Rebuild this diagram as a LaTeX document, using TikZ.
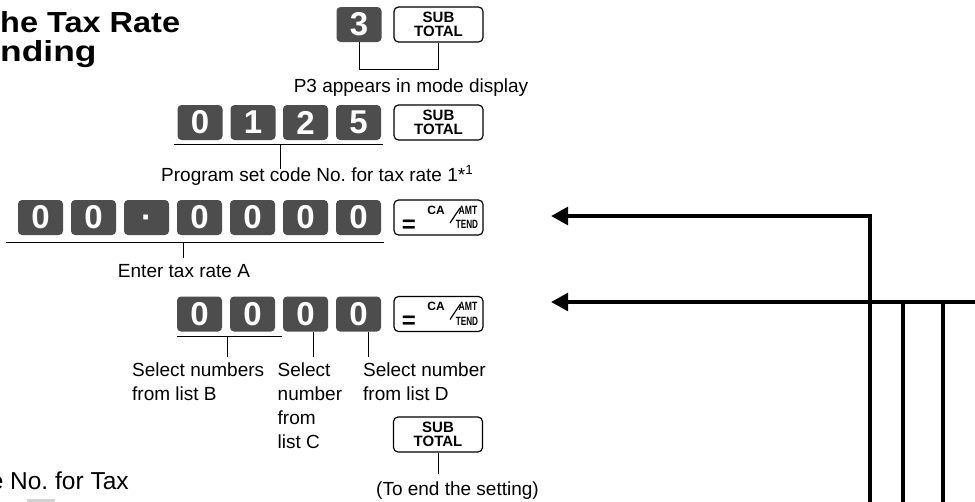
\documentclass[tikz,border=0pt]{standalone}
\usepackage{fontspec}
\setmainfont{Liberation Sans}
\usetikzlibrary{arrows.meta}
\definecolor{keygray}{HTML}{4D4D4D}
\begin{document}
\begin{tikzpicture}[x=1pt,y=-1pt,
  dkey/.style={fill=keygray, rounded corners=4pt, text=white, inner sep=0pt,
    minimum width=45pt, minimum height=35pt,
    font=\bfseries\fontsize{33}{33}\selectfont},
  okey/.style={draw=black, line width=1.2pt, rounded corners=4.5pt, fill=white,
    inner sep=0pt, minimum width=89pt, minimum height=35pt,
    align=center, font=\bfseries\fontsize{15}{13.4}\selectfont},
  thin/.style={line width=0.9pt},
  thick/.style={line width=4pt, line join=miter},
  lab/.style={inner sep=0pt, font=\fontsize{19}{23.7}\selectfont},
  keytxt/.style={inner sep=0pt, font=\bfseries\fontsize{12}{12}\selectfont},
  tip/.style={-{Triangle[length=17pt,width=17.5pt]}},
  cakey/.pic={
    \node[okey] (-box) at (0,0) {};
    \node[inner sep=0pt, font=\bfseries\fontsize{24}{24}\selectfont] (-eq) at (-29.5,8.5) {=};
    \node[keytxt] (-ca) at (-2.5,-7.5) {CA};
    \node[keytxt] (-amt) at (29.5,-7.5) {\scalebox{0.72}[1]{AMT}};
    \node[keytxt] (-tend) at (28.5,7) {\scalebox{0.68}[1]{TEND}};
    \coordinate (-s1) at (11.5,5.5);
    \coordinate (-s2) at (21.5,-9.5);
    \draw[line width=1.2pt] (-s1) -- (-s2);
  }
]
\useasboundingbox (0,0) rectangle (975,501);
\clip (0,0) rectangle (975,501);

% title
\node[anchor=base west, inner sep=0pt] (t1) at (0,32.5)
  {\scalebox{1.12}[1]{\bfseries\fontsize{29}{29}\selectfont he Tax Rate}};
\node[anchor=base west, inner sep=0pt] (t2) at (0,61)
  {\scalebox{1.22}[1]{\bfseries\fontsize{29}{29}\selectfont nding}};

% row 1
\node[dkey] (k3) at (359,24.5) {3};
\node[okey] (st1) at (438.5,24.5) {SUB\\TOTAL};
\coordinate (b1) at (359,69);
\draw[thin] (k3.south) -- (b1) -| (st1.south);
\node[lab, anchor=base] (l1) at (411,92) {P3 appears in mode display};

% row 2
\node[dkey] (r2a) at (200,122.5) {0};
\node[dkey] (r2b) at (253,122.5) {1};
\node[dkey] (r2c) at (305.5,122.5) {2};
\node[dkey] (r2d) at (358.5,122.5) {5};
\node[okey] (st2) at (438.5,122.5) {SUB\\TOTAL};
\coordinate (u2a) at (174,144);
\coordinate (u2b) at (383,144);
\coordinate (u2m) at (280,144);
\coordinate (u2e) at (280,169);
\draw[thin] (u2a) -- (u2b);
\draw[thin] (u2m) -- (u2e);
\node[lab, anchor=base west] (l2) at (161,181) {Program set code No.\ for tax rate 1*\textsuperscript{1}};

% row 3
\node[dkey] (r3a) at (40.5,217.5) {0};
\node[dkey] (r3b) at (93.5,217.5) {0};
\node[dkey] (r3c) at (146.5,217.5) {\vphantom{0}·};
\node[dkey] (r3d) at (199.5,217.5) {0};
\node[dkey] (r3e) at (252.5,217.5) {0};
\node[dkey] (r3f) at (305.5,217.5) {0};
\node[dkey] (r3g) at (358.5,217.5) {0};
\pic (ca1) at (438.5,217.5) {cakey};
\coordinate (u3a) at (6,242);
\coordinate (u3b) at (384,242);
\coordinate (u3m) at (183,242);
\coordinate (u3e) at (183,258);
\draw[thin] (u3a) -- (u3b);
\draw[thin] (u3m) -- (u3e);
\node[lab, anchor=base] (l3) at (184,277) {Enter tax rate A};

% row 4
\node[dkey] (r4a) at (199.5,314) {0};
\node[dkey] (r4b) at (252.5,314) {0};
\node[dkey] (r4c) at (305.5,314) {0};
\node[dkey] (r4d) at (358.5,314) {0};
\pic (ca2) at (438.5,314) {cakey};
\coordinate (u4a) at (177,336);
\coordinate (u4b) at (282,336);
\coordinate (u4m) at (227,336);
\coordinate (u4e) at (227,357);
\draw[thin] (u4a) -- (u4b);
\draw[thin] (u4m) -- (u4e);
\coordinate (v4c) at (313,332);
\coordinate (v4ce) at (313,357);
\coordinate (v4d) at (368,332);
\coordinate (v4de) at (368,357);
\draw[thin] (v4c) -- (v4ce);
\draw[thin] (v4d) -- (v4de);
\node[lab, anchor=north west, align=left] (lb) at (132,363) {Select numbers\\from list B};
\node[lab, anchor=north west, align=left] (lc) at (277.5,363) {Select\\number\\from\\list C};
\node[lab, anchor=north west, align=left] (ld) at (363,363) {Select number\\from list D};

% final sub total
\node[okey] (st3) at (438,434.5) {SUB\\TOTAL};
\coordinate (e5) at (438,474);
\draw[thin] (st3.south) -- (e5);
\node[lab, anchor=base] (l5) at (457.5,495) {(To end the setting)};

% bottom left fragment
\node[anchor=base west, inner sep=0pt, font=\fontsize{24.5}{24.5}\selectfont] (nt) at (10,489) {\llap{e }No.\ for Tax};
\fill[gray!35] (27,498.5) rectangle (55,510);

% thick connectors
\coordinate (a1) at (551,216);
\coordinate (a2) at (551,302);
\coordinate (v1) at (870,510);
\coordinate (h2) at (985,302);
\coordinate (j2) at (903,302);
\coordinate (j3) at (943,302);
\coordinate (v2) at (903,510);
\coordinate (v3) at (943,510);
\draw[thick, tip] (v1) |- (a1);
\draw[thick, tip] (h2) -- (a2);
\draw[thick] (j2) -- (v2);
\draw[thick] (j3) -- (v3);
\end{tikzpicture}
\end{document}
